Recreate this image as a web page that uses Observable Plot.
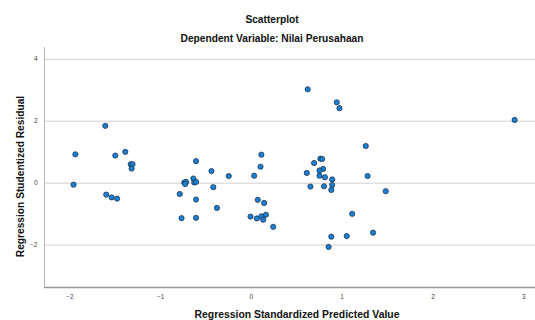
<!DOCTYPE html>
<html>
<head>
<meta charset="utf-8">
<script src="https://cdn.jsdelivr.net/npm/d3@7"></script>
<script src="https://cdn.jsdelivr.net/npm/@observablehq/plot@0.6"></script>
<style>
  html, body { margin: 0; padding: 0; background: #fff; }
  #wrap { width: 535px; height: 320px; position: relative; overflow: hidden; font-family: "Liberation Sans", Arial, sans-serif; }
  #head { position: relative; height: 46px; width: 535px; }
  .t { position: absolute; left: 0; width: 544px; text-align: center; font-weight: bold; font-size: 10.2px; color: #111; white-space: nowrap; }
  #t1 { top: 14px; }
  #t2 { top: 33px; }
  svg { display: block; }
</style>
</head>
<body>
<div id="wrap">
  <div id="head">
    <div class="t" id="t1">Scatterplot</div>
    <div class="t" id="t2">Dependent Variable: Nilai Perusahaan</div>
  </div>
  <div id="chart"></div>
</div>
<script>
const predicted = [
  -1.61, -1.94, -1.50, -1.39, -1.33, -1.31, -1.32, -1.96, -1.60, -1.54, -1.48,
  -0.61, -0.74, -0.72, -0.73, -0.64, -0.63, -0.61, -0.79, -0.61, -0.77, -0.61,
  0.11, 0.10, -0.44, -0.25, 0.03, -0.42, -0.38, 0.07, 0.14, -0.01, 0.06, 0.11, 0.16, 0.13, 0.24,
  0.62, 0.94, 0.97, 1.26, 0.76, 0.78, 0.69, 0.79, 0.75, 0.61, 0.75, 0.81, 0.89, 1.28,
  0.65, 0.80, 0.89, 0.88, 1.48, 1.11, 0.88, 1.05, 1.34, 0.85, 2.90
];
const residual = [
  1.85, 0.93, 0.89, 1.01, 0.61, 0.61, 0.47, -0.05, -0.37, -0.46, -0.50,
  0.71, 0.02, 0.04, -0.03, 0.15, 0.02, 0.04, -0.35, -0.53, -1.13, -1.12,
  0.92, 0.53, 0.39, 0.23, 0.24, -0.13, -0.80, -0.54, -0.64, -1.08, -1.14, -1.07, -1.02, -1.18, -1.41,
  3.03, 2.61, 2.42, 1.20, 0.79, 0.78, 0.65, 0.46, 0.41, 0.33, 0.24, 0.19, 0.12, 0.23,
  -0.11, -0.10, -0.06, -0.22, -0.26, -0.99, -1.73, -1.71, -1.60, -2.06, 2.04
];
const xTicks = [-2, -1, 0, 1, 2, 3];
const yTicks = [-2, 0, 2, 4];
const xTitle = "Regression Standardized Predicted Value";
const yTitle = "Regression Studentized Residual";

const points = predicted.map((x, i) => ({x, y: residual[i]}));
const xDomain = [-2.28, 3.13];
const yDomain = [-3.37, 4.38];

const chart = Plot.plot({
  width: 535,
  height: 274,
  marginTop: 1,
  marginBottom: 33,
  marginLeft: 44,
  marginRight: 0,
  style: { fontFamily: "Liberation Sans, Arial, sans-serif", background: "#fff", overflow: "visible" },
  x: { domain: xDomain },
  y: { domain: yDomain },
  marks: [
    Plot.ruleY(yTicks, { stroke: "#cfcfcf", strokeWidth: 1 }),
    Plot.ruleX([xDomain[0]], { stroke: "#b5b5b5", strokeWidth: 1 }),
    Plot.ruleY([yDomain[0]], { stroke: "#999", strokeWidth: 1.6 }),
    Plot.axisY(yTicks, { tickSize: 0, tickPadding: 7, fontSize: 6.5, fill: "#444", label: null }),
    Plot.axisX(xTicks, { tickSize: 0, tickPadding: 7, fontSize: 6.5, fill: "#444", label: null }),
    Plot.dot(points, { x: "x", y: "y", r: 2.6, fill: "#1b80d4", stroke: "#1d3550", strokeWidth: 0.8 }),
    Plot.text([yTitle], { frameAnchor: "left", textAnchor: "middle", lineAnchor: "middle", dx: -24, dy: 9, rotate: -90, fontSize: 10.2, fontWeight: "bold", fill: "#111" }),
    Plot.text([xTitle], { frameAnchor: "bottom", textAnchor: "middle", lineAnchor: "middle", dx: 7, dy: 27, fontSize: 10.4, fontWeight: "bold", fill: "#111" })
  ]
});
document.getElementById("chart").appendChild(chart);
</script>
</body>
</html>
